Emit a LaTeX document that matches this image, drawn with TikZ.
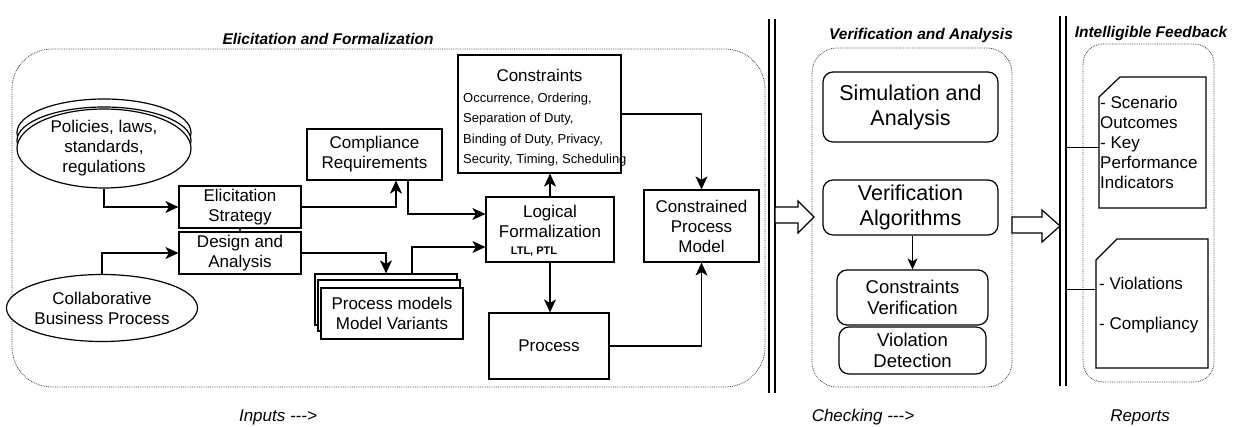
\documentclass[tikz,border=0pt]{standalone}
\usepackage{fontspec}
\setmainfont{Liberation Sans}
\usetikzlibrary{arrows.meta,shapes.geometric}

\tikzset{
  txt/.style={font=\fontsize{17}{20}\selectfont, align=center, inner sep=0pt},
  box/.style={draw, line width=1.2pt, fill=white, inner sep=0pt, txt},
  rbox/.style={box, rounded corners=10pt},
  oval/.style={box, ellipse, minimum width=174pt, minimum height=67pt},
  arr/.style={-{Stealth[length=13pt,width=12pt,inset=3.5pt]}, line width=1.2pt},
  plain/.style={line width=1.2pt},
  zone/.style={draw, densely dotted, line width=0.8pt, black!75},
  zonetitle/.style={font=\fontsize{15.5}{18}\selectfont\bfseries\itshape, inner sep=0pt},
  stagelabel/.style={font=\fontsize{17}{20}\selectfont\itshape, inner sep=0pt},
  bar/.style={line width=1.5pt},
  blockarrow/.style={draw, line width=1.2pt, fill=white, line join=miter},
}

\begin{document}
\begin{tikzpicture}[x=1pt, y=-1pt]
\useasboundingbox (0,0) rectangle (1237,427);

% ---------- stage frames ----------
\draw[zone, rounded corners=40pt] (12,49) rectangle (765,387);
\draw[zone, rounded corners=25pt] (812,48) rectangle (1012,387);
\draw[zone, rounded corners=20pt] (1083,44) rectangle (1214,382);

\node[zonetitle] (t1) at (328,39) {Elicitation and Formalization};
\node[zonetitle] (t2) at (921,35) {Verification and Analysis};
\node[zonetitle] (t3) at (1151,33) {Intelligible Feedback};

% stage separators
\draw[bar] (769,19) -- (769,393);
\draw[bar] (775,19) -- (775,393);
\draw[bar] (1060,16) -- (1060,386);
\draw[bar] (1066,16) -- (1066,386);

% ---------- elicitation and formalization ----------
\node[oval] (pol3) at (104,132.5) {};
\node[oval] (pol2) at (104,140.5) {};
\node[oval] (pol) at (104,148.5) {Policies, laws,\\standards,\\regulations};

\node[oval] (cbp) at (102,308) {Collaborative\\Business Process};

\node[box, minimum width=122pt, minimum height=42pt] (es) at (240,207) {Elicitation\\Strategy};
\node[box, minimum width=122pt, minimum height=42pt] (da) at (240,253) {Design and\\Analysis};
\node[box, minimum width=135pt, minimum height=51pt] (cr) at (374.5,154.5) {Compliance\\Requirements};

\node[box, minimum width=142pt, minimum height=51pt] (pmc) at (386,299.5) {};
\node[box, minimum width=142pt, minimum height=51pt] (pmb) at (389,305.5) {};
\node[box, minimum width=142pt, minimum height=51pt] (pm) at (392,313.5) {Process models\\Model Variants};

\node[box, minimum width=128pt, minimum height=65pt] (lf) at (550,229.5) {};
\node[txt] (lftext) at (550,221.5) {Logical\\Formalization};
\node[font=\fontsize{11}{13}\selectfont\bfseries, inner sep=0pt] (lfsub) at (534,252) {LTL, PTL};

\node[box, minimum width=163pt, minimum height=118pt] (cons) at (539.5,114) {};
\node[txt] (constitle) at (539.5,75) {Constraints};
\node[font=\fontsize{13}{20.3}\selectfont, align=left, anchor=west, inner sep=0pt] (conslist) at (463,129.5)
  {Occurrence, Ordering,\\Separation of Duty,\\Binding of Duty, Privacy,\\Security, Timing, Scheduling};

\node[box, minimum width=115pt, minimum height=72pt] (cpm) at (701.5,226) {Constrained\\Process\\Model};
\node[box, minimum width=120pt, minimum height=66pt] (proc) at (549,346) {Process};

% connectors
\draw[arr] (pol.south) |- (es.west);
\draw[arr] (cbp.north) |- (da.west);
\draw[-{Stealth[length=4pt,width=4pt]}, line width=1pt] (es.south) -- (da.north);
\draw[arr] (es.east) -| ([xshift=21.5pt]cr.south);
\draw[arr] ([xshift=33.5pt]cr.south) |- ([yshift=15.5pt]lf.west);
\draw[arr] (da.east) -| (pmc.north);
\draw[arr] ([xshift=26pt]pmc.north) |- ([yshift=-17.5pt]lf.west);
\draw[arr] (lf.north) -- (lf.north |- cons.south);
\draw[arr] (lf.south) -- (lf.south |- proc.north);
\draw[arr] (cons.east) -| (cpm.north);
\draw[arr] (proc.east) -| (cpm.south);

% ---------- verification and analysis ----------
\node[rbox, minimum width=175pt, minimum height=70pt, font=\fontsize{21.5}{25}\selectfont] (sim) at (910.5,107) {Simulation and\\Analysis};
\node[rbox, minimum width=175pt, minimum height=55pt, font=\fontsize{21.5}{25}\selectfont] (va) at (910.5,207.5) {Verification\\Algorithms};
\node[rbox, minimum width=151pt, minimum height=55pt, font=\fontsize{18.5}{21}\selectfont] (cv) at (912.5,297.5) {Constraints\\Verification};
\node[rbox, minimum width=147pt, minimum height=47pt, font=\fontsize{18.5}{21}\selectfont] (vd) at (912.5,350.5) {Violation\\Detection};
\draw[-{Stealth[length=11pt,width=10pt,inset=3pt]}, line width=1pt] (va.south -| cv.north) -- (cv.north);

% hand-over arrows between stages
\draw[blockarrow] (775,207) -- (798,207) -- (798,201) -- (814,217) -- (798,233) -- (798,223) -- (775,223) -- cycle;
\draw[blockarrow] (1012,217) -- (1042,217) -- (1042,210) -- (1060,226) -- (1042,242) -- (1042,233) -- (1012,233) -- cycle;

% ---------- intelligible feedback ----------
\draw[plain, line join=miter] (1099,97) -- (1120,77) -- (1206,77) -- (1206,208) -- (1099,208) -- cycle;
\node[txt, align=left, anchor=west] (fb1) at (1100,142) {- Scenario\\Outcomes\\- Key\\Performance\\Indicators};
\draw[plain, line join=miter] (1096,260) -- (1117,239) -- (1208,239) -- (1208,368) -- (1096,368) -- cycle;
\node[txt, align=left, anchor=west] (fb2) at (1099,305) {- Violations\\[20pt]- Compliancy};

\coordinate (b1) at (1066,148);
\coordinate (d1) at (1099,148);
\coordinate (b2) at (1066,290);
\coordinate (d2) at (1096,290);
\draw[line width=1pt] (b1) -- (d1);
\draw[line width=1pt] (b2) -- (d2);

% ---------- stage captions ----------
\node[stagelabel] (lin) at (278,417) {Inputs {-}{-}{-}>};
\node[stagelabel] (lch) at (863,417) {Checking {-}{-}{-}>};
\node[stagelabel] (lre) at (1140,417) {Reports};
\end{tikzpicture}
\end{document}
